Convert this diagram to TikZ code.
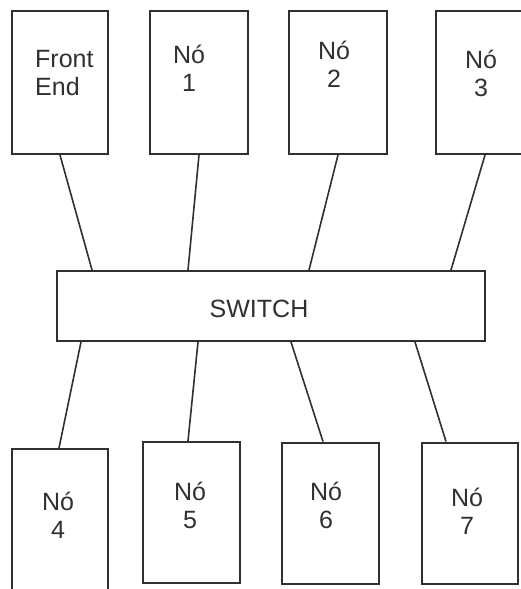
\documentclass[tikz,border=0pt]{standalone}
\usepackage{fontspec}
\setmainfont{Liberation Sans}
\usepackage{xcolor}
\usetikzlibrary{positioning,calc}
\definecolor{ink}{HTML}{303030}

\tikzset{
  box/.style={draw=ink,line width=2pt,fill=white,inner sep=0pt},
  link/.style={draw=ink,line width=1.6pt},
  lbl/.style={text=ink,inner sep=0pt,align=center,font=\fontsize{25}{28}\selectfont,anchor=base}
}

\begin{document}
\begin{tikzpicture}[x=1pt,y=-1pt]
\useasboundingbox[fill=white] (0,0) rectangle (521,589);
\clip (0,0) rectangle (521,589);
% top row
\node[box,minimum width=96,minimum height=143] (fe) at (60,82.5) {};
\node[box,minimum width=98,minimum height=143] (n1) at (199,82.5) {};
\node[box,minimum width=98,minimum height=143] (n2) at (338,82.5) {};
\node[box,minimum width=98,minimum height=143] (n3) at (485,82.5) {};
\node[lbl,align=left,anchor=base west] (fe-t) at (35,95) {Front\\End};
\node[lbl] (n1-t) at (189,91) {Nó\\1};
\node[lbl] (n2-t) at (334,87) {Nó\\2};
\node[lbl] (n3-t) at (481,96) {Nó\\3};
% switch
\node[box,minimum width=428,minimum height=70] (sw) at (271,306) {};
\node[lbl] (sw-t) at (259,317) {SWITCH};
% bottom row
\node[box,minimum width=96,minimum height=143] (n4) at (60,520.5) {};
\node[box,minimum width=97,minimum height=141] (n5) at (191.5,512.5) {};
\node[box,minimum width=97,minimum height=141] (n6) at (330.5,513) {};
\node[box,minimum width=96,minimum height=141] (n7) at (470,513) {};
\node[lbl] (n4-t) at (58,538) {Nó\\4};
\node[lbl] (n5-t) at (190,528) {Nó\\5};
\node[lbl] (n6-t) at (326,528) {Nó\\6};
\node[lbl] (n7-t) at (467,534) {Nó\\7};
% links
\foreach \n/\s in {fe/36,n1/132,n2/253,n3/395}{\draw[link] (\n.south) -- ([xshift=\s]sw.north west);}
\foreach \s/\n/\e in {25/n4/48,142/n5/46,235/n6/42,359/n7/25}{\draw[link] ([xshift=\s]sw.south west) -- ([xshift=\e]\n.north west);}
\end{tikzpicture}
\end{document}
